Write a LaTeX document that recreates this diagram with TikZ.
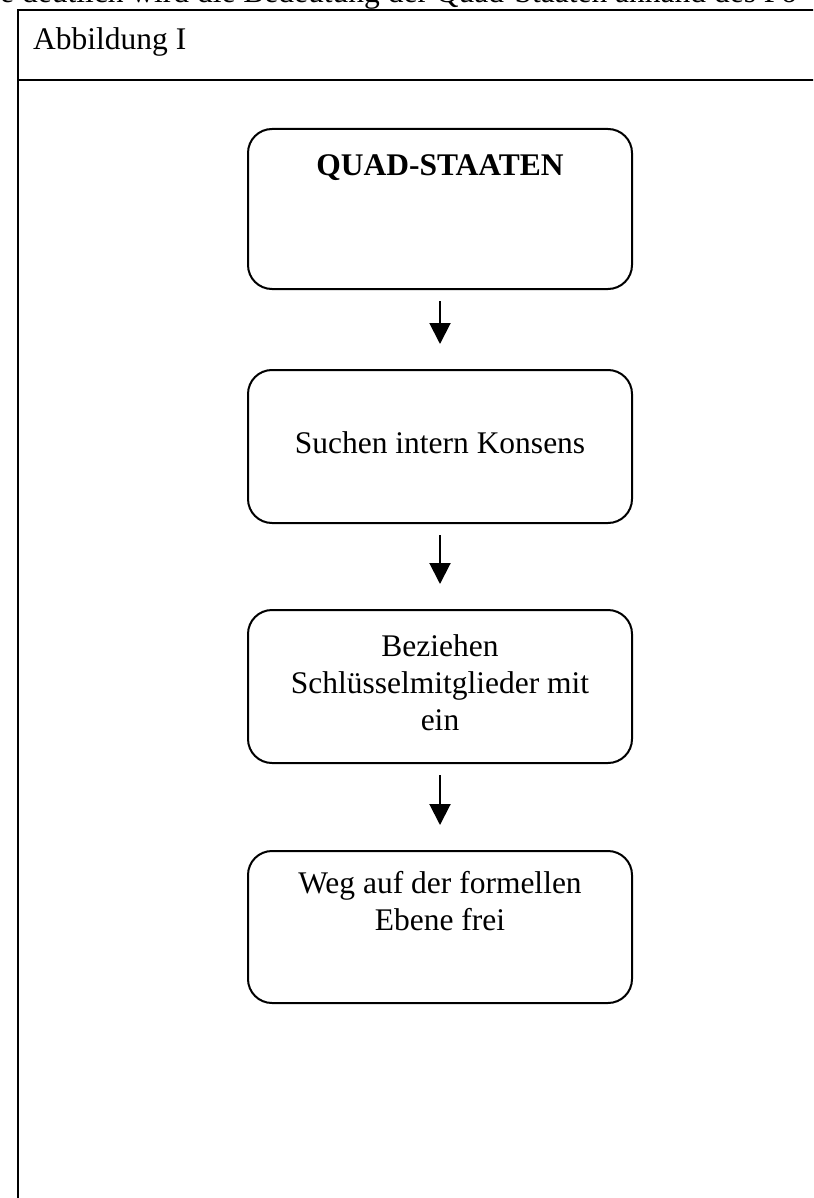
\documentclass[tikz,border=0pt]{standalone}
\usepackage{fontspec}
\setmainfont{Liberation Serif}
\usetikzlibrary{arrows.meta}
\begin{document}
\begin{tikzpicture}[x=1pt,y=-1pt,
  frameline/.style={line width=2.5pt},
  stepbox/.style={draw, line width=2pt, rounded corners=24pt, minimum width=384pt,
    inner sep=0pt, align=center, font=\fontsize{31.5}{37}\selectfont, anchor=north},
  flowarrow/.style={line width=2pt, -{Triangle[length=21pt,width=21pt]},
    shorten <=11pt, shorten >=25pt},
  txt/.style={font=\fontsize{31.5}{37}\selectfont, inner sep=0pt}
]
\useasboundingbox (0,0) rectangle (813,1198);
\clip (0,0) rectangle (813,1198);
% cut-off line of text above the figure
\node[txt, anchor=base west] (cut) at (0,3) {e deutlich wird die Bedeutung der Quad-Staaten anhand des Fo};
% frame
\draw[frameline] (18,1215) -- (18,10) -- (830,10);
\draw[frameline] (18,80) -- (830,80);
\node[txt, anchor=base west] (abb) at (33,50) {Abbildung I};
% boxes
\node[stepbox, text height=47pt, text depth=113pt] (quad) at (440,128) {\textbf{QUAD-STAATEN}};
\node[stepbox, text height=83pt, text depth=70pt] (such) at (440,369) {Suchen intern Konsens};
\node[stepbox, text height=46pt, text depth=107pt] (bez) at (440,609)
  {\begin{tabular}[t]{@{}c@{}}Beziehen\\Schlüsselmitglieder mit\\ein\end{tabular}};
\node[stepbox, text height=42pt, text depth=110pt] (weg) at (440,850)
  {\begin{tabular}[t]{@{}c@{}}Weg auf der formellen\\Ebene frei\end{tabular}};
% arrows
\draw[flowarrow] (quad.south) -- (such.north);
\draw[flowarrow] (such.south) -- (bez.north);
\draw[flowarrow] (bez.south) -- (weg.north);
\end{tikzpicture}
\end{document}
